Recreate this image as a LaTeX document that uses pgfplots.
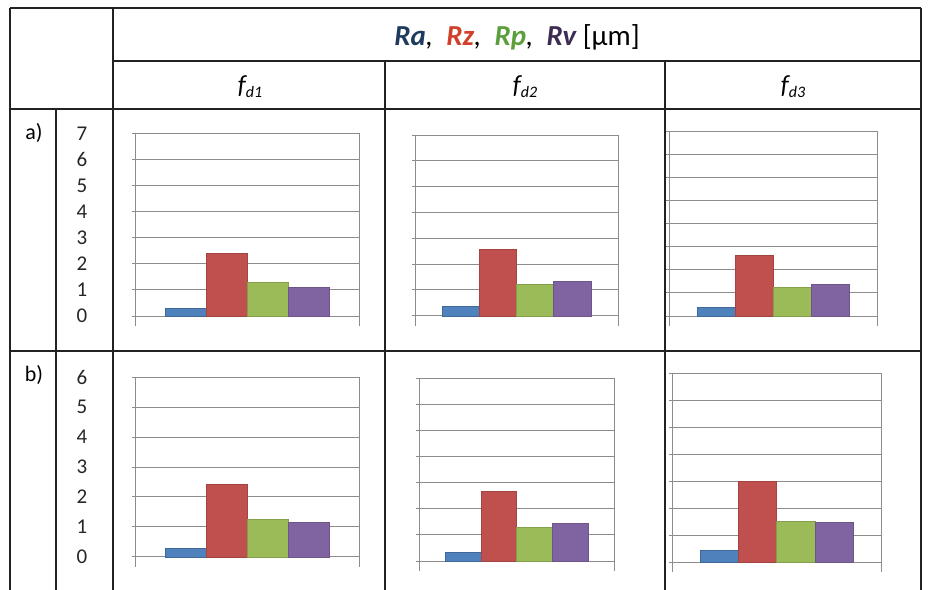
\documentclass[border=0pt]{standalone}
\usepackage{pgfplots}
\pgfplotsset{compat=1.18}
\usepackage{fontspec}
\setmainfont{Carlito}
\definecolor{cblue}{HTML}{4F81BD}
\definecolor{cred}{HTML}{C0504D}
\definecolor{cgreen}{HTML}{9BBB59}
\definecolor{cpurple}{HTML}{8064A2}
\definecolor{tRa}{HTML}{1F3A5F}
\definecolor{tRz}{HTML}{D0402A}
\definecolor{tRp}{HTML}{5A9F3C}
\definecolor{tRv}{HTML}{3C2B52}
\definecolor{axgray}{HTML}{8C8C8C}
\definecolor{tline}{HTML}{222222}
\pgfplotsset{
 cell/.style={scale only axis, anchor=south west, xmin=-0.5, xmax=0.5, ymin=0,
  axis line style={draw=axgray, line width=1pt},
  ymajorgrids, grid style={draw=axgray, line width=1pt},
  xtick={-0.5,0.5}, xticklabels={}, yticklabels={},
  tick pos=left, tick align=outside, major tick length=3pt,
  xtick style={/pgfplots/major tick length=10pt},
  tick style={draw=axgray, line width=1pt},
  clip=false,
  /pgf/number format/assume math mode=true,
 },
 numlab/.style={yticklabel={\pgfmathprintnumber{\tick}},
  yticklabel style={anchor=center, xshift=-50pt, font=\fontsize{21}{21}\selectfont, text=black!85}},
 bb/.style={ybar, bar width=0.183, bar shift=0pt, fill=cblue, draw=cblue!80!black, line width=0.4pt},
 br/.style={ybar, bar width=0.183, bar shift=0pt, fill=cred, draw=cred!85!black, line width=0.4pt},
 bg/.style={ybar, bar width=0.183, bar shift=0pt, fill=cgreen, draw=cgreen!85!black, line width=0.4pt},
 bp/.style={ybar, bar width=0.183, bar shift=0pt, fill=cpurple, draw=cpurple!85!black, line width=0.4pt},
}
\begin{document}
\begin{tikzpicture}
\useasboundingbox (0pt,0pt) rectangle (928pt,-589pt);
\clip (0pt,0pt) rectangle (928pt,-589pt);
% table lines
\begin{scope}[draw=tline, line width=2pt]
\draw (10pt,-8pt) -- (921pt,-8pt);
\draw (113pt,-61pt) -- (921pt,-61pt);
\draw (10pt,-109pt) -- (921pt,-109pt);
\draw (10pt,-351pt) -- (921pt,-351pt);
\draw (10pt,-8pt) -- (10pt,-600pt);
\draw (56pt,-109pt) -- (56pt,-600pt);
\draw (113pt,-8pt) -- (113pt,-600pt);
\draw (385pt,-61pt) -- (385pt,-600pt);
\draw (665pt,-61pt) -- (665pt,-600pt);
\draw (921pt,-8pt) -- (921pt,-600pt);
\end{scope}
% header
\node at (517pt,-37pt) {\fontsize{29}{32}\selectfont {\bfseries\itshape\color{tRa}Ra}\textit{,}\ \ {\bfseries\itshape\color{tRz}Rz}\textit{,}\ \ {\bfseries\itshape\color{tRp}Rp}\textit{,}\ \ {\bfseries\itshape\color{tRv}Rv} [µm]};
\node at (250pt,-87pt) {\fontsize{26}{28}\selectfont\itshape f\raisebox{-0.3ex}{\fontsize{16}{16}\selectfont d1}};
\node at (525pt,-87pt) {\fontsize{26}{28}\selectfont\itshape f\raisebox{-0.3ex}{\fontsize{16}{16}\selectfont d2}};
\node at (793pt,-87pt) {\fontsize{26}{28}\selectfont\itshape f\raisebox{-0.3ex}{\fontsize{16}{16}\selectfont d3}};
\node at (34pt,-133pt) {\fontsize{22}{22}\selectfont a)};
\node at (34pt,-375pt) {\fontsize{22}{22}\selectfont b)};
% a1
\begin{axis}[cell, numlab, at={(135pt,-316pt)}, width=224pt, height=182.7pt, ymax=7, ytick={0,...,7}]
\addplot[bb] coordinates {(-0.2745,0.31)};
\addplot[br] coordinates {(-0.0915,2.41)};
\addplot[bg] coordinates {(0.0915,1.29)};
\addplot[bp] coordinates {(0.2745,1.09)};
\end{axis}
% a2
\begin{axis}[cell, at={(415pt,-315.7pt)}, width=203pt, height=180.7pt, ymax=7, ytick={0,...,7}]
\addplot[bb] coordinates {(-0.2745,0.35)};
\addplot[br] coordinates {(-0.0915,2.57)};
\addplot[bg] coordinates {(0.0915,1.23)};
\addplot[bp] coordinates {(0.2745,1.33)};
\end{axis}
% a3
\begin{axis}[cell, at={(669pt,-316pt)}, width=208pt, height=185pt, ymax=8, ytick={0,...,8}]
\addplot[bb] coordinates {(-0.2745,0.36)};
\addplot[br] coordinates {(-0.0915,2.65)};
\addplot[bg] coordinates {(0.0915,1.25)};
\addplot[bp] coordinates {(0.2745,1.38)};
\end{axis}
% b1
\begin{axis}[cell, numlab, at={(135pt,-556.7pt)}, width=224pt, height=179.4pt, ymax=6, ytick={0,...,6}]
\addplot[bb] coordinates {(-0.2745,0.30)};
\addplot[br] coordinates {(-0.0915,2.42)};
\addplot[bg] coordinates {(0.0915,1.27)};
\addplot[bp] coordinates {(0.2745,1.14)};
\end{axis}
% b2
\begin{axis}[cell, at={(419pt,-561pt)}, width=195pt, height=183pt, ymax=7, ytick={0,...,7}]
\addplot[bb] coordinates {(-0.2745,0.34)};
\addplot[br] coordinates {(-0.0915,2.67)};
\addplot[bg] coordinates {(0.0915,1.28)};
\addplot[bp] coordinates {(0.2745,1.43)};
\end{axis}
% b3
\begin{axis}[cell, at={(672pt,-562pt)}, width=209pt, height=189pt, ymax=7, ytick={0,...,7}]
\addplot[bb] coordinates {(-0.2745,0.42)};
\addplot[br] coordinates {(-0.0915,3.00)};
\addplot[bg] coordinates {(0.0915,1.52)};
\addplot[bp] coordinates {(0.2745,1.46)};
\end{axis}
\end{tikzpicture}
\end{document}
